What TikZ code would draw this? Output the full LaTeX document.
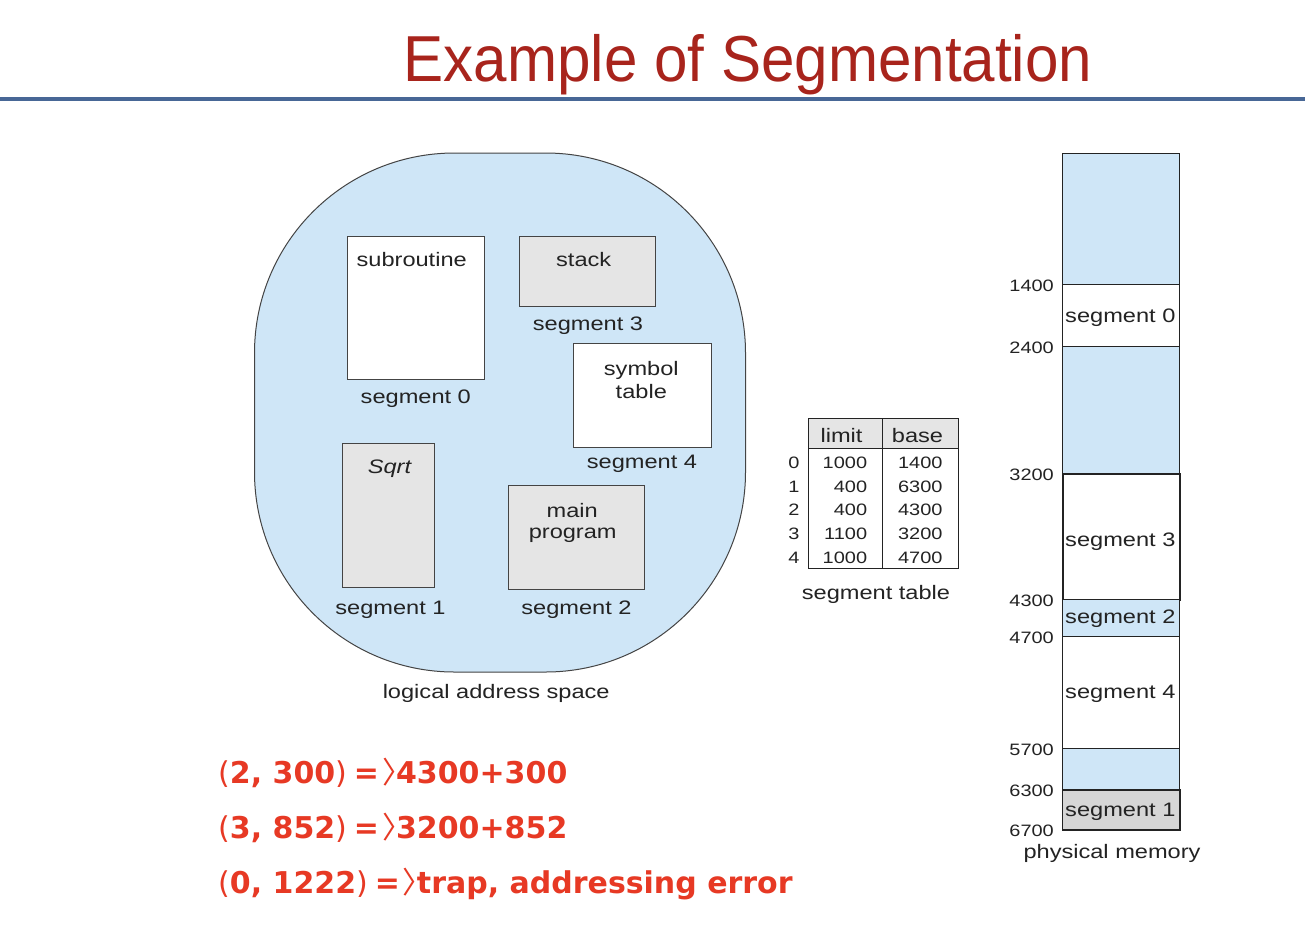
\documentclass[tikz,border=0pt]{standalone}
\usepackage{fontspec}
\usepackage{graphicx}
\setmainfont{Liberation Sans}
\newfontfamily\dejavu{DejaVu Sans}
\newfontfamily\cjk{Noto Sans CJK SC}
\definecolor{lblue}{RGB}{207,230,247}
\definecolor{boxgray}{RGB}{229,229,229}
\definecolor{memgray}{RGB}{214,214,214}
\definecolor{titlered}{RGB}{168,36,28}
\definecolor{exred}{RGB}{231,57,36}
\definecolor{rulecol}{RGB}{72,103,150}
\definecolor{ink}{RGB}{35,35,35}
\newcommand{\W}[1]{\scalebox{1.21}[1]{#1}}
\newcommand{\lblfont}{\fontsize{19.5}{22}\selectfont}
\newcommand{\smfont}{\fontsize{16.5}{19}\selectfont}
\newcommand{\ang}{\makebox[17pt][l]{\hspace{3pt}\makebox[10pt][l]{\cjk\mdseries 〉}}}
\begin{document}
\begin{tikzpicture}[x=1pt,y=-1pt,
  lbl/.style={font=\lblfont, text=ink, inner sep=0pt, anchor=base},
  sml/.style={font=\smfont, text=ink, inner sep=0pt, anchor=base east},
  segbox/.style={draw=ink!85, line width=1.1pt, anchor=north west, inner sep=0pt},
  memblk/.style={draw=ink, line width=0.9pt, anchor=north west, minimum width=117.3, inner sep=0pt},
  ex/.style={font=\dejavu\bfseries\fontsize{30}{34}\selectfont, text=exred, anchor=base west, inner sep=0pt}]

\useasboundingbox[fill=white] (0,0) rectangle (1305,927);

% title and rule
\node[font=\fontsize{65}{70}\selectfont, text=titlered, anchor=base, inner sep=0pt] (title) at (748,81.7) {\scalebox{0.925}[1]{Example of Segmentation}};
\coordinate (ruleL) at (0,99);
\coordinate (ruleR) at (1305,99);
\draw[rulecol, line width=3.4pt] (ruleL) -- (ruleR);

% logical address space
\node[draw=ink!85, line width=1pt, fill=lblue, rounded corners=200pt, minimum width=491, minimum height=519, inner sep=0pt] (las) at (500,412.5) {};

\node[segbox, fill=white, minimum width=137.6, minimum height=143.3] (sub) at (346.7,235.7) {};
\node[segbox, fill=boxgray, minimum width=136, minimum height=70.3] (stk) at (519,235.7) {};
\node[segbox, fill=white, minimum width=137.4, minimum height=104] (sym) at (573.3,343.3) {};
\node[segbox, fill=boxgray, minimum width=92.6, minimum height=144] (sqr) at (341.7,442.7) {};
\node[segbox, fill=boxgray, minimum width=136.3, minimum height=104] (mainb) at (507.7,485) {};

\node[lbl] (tsub) at (411.7,266) {\W{subroutine}};
\node[lbl] (tstk) at (583.7,266) {\W{stack}};
\node[lbl] (tsym1) at (641.3,375) {\W{symbol}};
\node[lbl] (tsym2) at (641.3,398) {\W{table}};
\node[lbl] (tsqr) at (389.5,473.3) {\W{\itshape Sqrt}};
\node[lbl] (tmain1) at (572.2,517) {\W{main}};
\node[lbl] (tmain2) at (572.7,538.3) {\W{program}};

\node[lbl] (ls0) at (415.8,403) {\W{segment 0}};
\node[lbl] (ls3) at (588,330) {\W{segment 3}};
\node[lbl] (ls4) at (642,468) {\W{segment 4}};
\node[lbl] (ls1) at (390.5,614.3) {\W{segment 1}};
\node[lbl] (ls2) at (576.5,614.3) {\W{segment 2}};
\node[lbl] (lcap) at (496.2,698.3) {\W{logical address space}};

% segment table
\node[fill=boxgray, draw=ink, line width=1pt, minimum width=150, minimum height=30, anchor=north west, inner sep=0pt] (thead) at (808.3,418.3) {};
\node[draw=ink, line width=1pt, minimum width=150, minimum height=150, anchor=north west, inner sep=0pt] (tbl) at (808.3,418.3) {};
\coordinate (dv1) at (882.7,418.3);
\coordinate (dv2) at (882.7,568.3);
\draw[ink, line width=1pt] (dv1) -- (dv2);
\node[lbl] (hlim) at (841.5,442.5) {\W{limit}};
\node[lbl] (hbase) at (917.5,442.5) {\W{base}};
\foreach \i/\lim/\bas in {0/1000/1400,1/400/6300,2/400/4300,3/1100/3200,4/1000/4700}{
  \node[sml, anchor=base] (ix\i) at (794,468.5+23.7*\i) {\W{\i}};
  \node[sml] (lim\i) at (867.3,468.5+23.7*\i) {\W{\lim}};
  \node[sml] (bas\i) at (942.7,468.5+23.7*\i) {\W{\bas}};
}
\node[lbl] (tcap) at (876,599.3) {\W{segment table}};

% physical memory
\node[memblk, fill=lblue, minimum height=130.7] (ma) at (1061.7,153.3) {};
\node[memblk, fill=white, minimum height=61.7] (m0) at (1061.7,284) {};
\node[memblk, fill=lblue, minimum height=127.6] (mb) at (1061.7,345.7) {};
\node[memblk, fill=white, minimum height=125.7, line width=1.8pt] (m3) at (1061.7,473.3) {};
\node[memblk, fill=lblue, minimum height=37] (m2) at (1061.7,599) {};
\node[memblk, fill=white, minimum height=112] (m4) at (1061.7,636) {};
\node[memblk, fill=lblue, minimum height=41] (mc) at (1061.7,748) {};
\node[memblk, fill=memgray, minimum height=40, line width=1.6pt] (m1) at (1061.7,789) {};

\node[lbl] (tm0) at (1120.3,322) {\W{segment 0}};
\node[lbl] (tm3) at (1120.3,546.7) {\W{segment 3}};
\node[lbl] (tm2) at (1120.3,623.5) {\W{segment 2}};
\node[lbl] (tm4) at (1120.3,698) {\W{segment 4}};
\node[lbl] (tm1) at (1120.3,816.7) {\W{segment 1}};

\foreach \v/\yy in {1400/284,2400/345.7,3200/473.3,4300/599,4700/636,5700/748,6300/789,6700/829}{
  \node[sml] (a\v) at (1054,\yy+7.5) {\W{\v}};
}
\node[lbl] (pcap) at (1112,858) {\W{physical memory}};

% examples
\node[ex] (e1) at (218,783.3) {{\mdseries(}2, 300{\mdseries)}\hspace{7pt}=\ang 4300+300};
\node[ex] (e2) at (218,838.3) {{\mdseries(}3, 852{\mdseries)}\hspace{7pt}=\ang 3200+852};
\node[ex] (e3) at (218,893.3) {{\mdseries(}0, 1222{\mdseries)}\hspace{7pt}=\ang trap, addressing error};
\end{tikzpicture}
\end{document}
